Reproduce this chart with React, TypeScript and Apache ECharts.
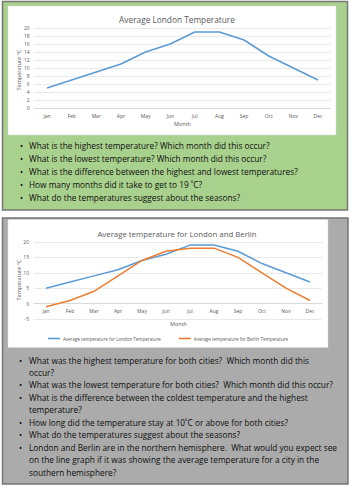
import React, { useEffect, useRef } from "react";
import * as echarts from "echarts";

const months = ["Jan", "Feb", "Mar", "Apr", "May", "Jun", "Jul", "Aug", "Sep", "Oct", "Nov", "Dec"];
const londonTemps = [5, 7, 9, 11, 14, 16, 19, 19, 17, 13, 10, 7];
const berlinTemps = [-1, 1, 4, 9, 14, 17, 18, 18, 15, 10, 5, 1];

const topTitle = "Average London Temperature";
const bottomTitle = "Average temperature for London and Berlin";
const londonName = "Average temperature for London Temperature";
const berlinName = "Average temperature for Berlin Temperature";
const yAxisTitle = "Temperature \u00B0C";
const xAxisTitle = "Month";

const topQuestions = [
  "What is the highest temperature? Which month did this occur?",
  "What is the lowest temperature? Which month did this occur?",
  "What is the difference between the highest and lowest temperatures?",
  "How many months did it take to get to 19 \u02DAC?",
  "What do the temperatures suggest about the seasons?",
];

// each question split into its printed lines
const bottomQuestions = [
  ["What was the highest temperature for both cities?  Which month did this", "occur?"],
  ["What was the lowest temperature for both cities?  Which month did this occur?"],
  ["What is the difference between the coldest temperature and the highest", "temperature?"],
  ["How long did the temperature stay at 10\u02DAC or above for both cities?"],
  ["What do the temperatures suggest about the seasons?"],
  [
    "London and Berlin are in the northern hemisphere.  What would you expect see",
    "on the line graph if it was showing the average temperature for a city in the",
    "southern hemisphere?",
  ],
];

const chartFont = "'Open Sans', 'Liberation Sans', sans-serif";
const bulletFont = "'Open Sans', 'Liberation Sans', sans-serif";

export default function App() {
  const ref = useRef<HTMLDivElement>(null);

  useEffect(() => {
    if (!ref.current) return;
    const chart = echarts.init(ref.current, undefined, { renderer: "svg" });

    const graphics: any[] = [
      { type: "rect", z: -10, shape: { x: 2.5, y: 1.5, width: 345, height: 208.5 }, style: { fill: "#A9D18E", stroke: "#767676", lineWidth: 1.5 } },
      { type: "rect", z: -9, shape: { x: 8, y: 6, width: 328, height: 129 }, style: { fill: "#ffffff", stroke: "#d9d9d9", lineWidth: 0.5 } },
      { type: "rect", z: -10, shape: { x: 2.5, y: 218, width: 345.5, height: 266 }, style: { fill: "#ABABAB", stroke: "#767676", lineWidth: 1.5 } },
      { type: "rect", z: -9, shape: { x: 8, y: 219.5, width: 320, height: 128 }, style: { fill: "#ffffff", stroke: "#d9d9d9", lineWidth: 0.5 } },
    ];

    const nameText = { fontSize: 5.5, fontFamily: chartFont, fill: "#595959", align: "center", verticalAlign: "middle" };
    graphics.push({ type: "text", x: 19, y: 70, rotation: Math.PI / 2, style: { ...nameText, text: yAxisTitle } });
    graphics.push({ type: "text", x: 18.5, y: 280, rotation: Math.PI / 2, style: { ...nameText, text: yAxisTitle } });
    graphics.push({ type: "text", x: 182.5, y: 124, style: { ...nameText, text: xAxisTitle } });
    graphics.push({ type: "text", x: 178.5, y: 323.5, style: { ...nameText, text: xAxisTitle } });

    const bulletStyle = { fontSize: 8.3, fontFamily: bulletFont, fill: "#0d0d0d", verticalAlign: "middle" };
    topQuestions.forEach((q, i) => {
      const y = 145 + i * 13;
      graphics.push({ type: "text", x: 20, y, style: { ...bulletStyle, text: "\u2022" } });
      graphics.push({ type: "text", x: 29, y, style: { ...bulletStyle, text: q } });
    });
    let lineIdx = 0;
    bottomQuestions.forEach((lines) => {
      lines.forEach((ln, j) => {
        const y = 360 + lineIdx * 12.45;
        if (j === 0) graphics.push({ type: "text", x: 19, y, style: { ...bulletStyle, text: "\u2022" } });
        graphics.push({ type: "text", x: 29, y, style: { ...bulletStyle, text: ln } });
        lineIdx++;
      });
    });

    const axisLabelStyle = { fontSize: 5, color: "#595959", fontFamily: chartFont };

    chart.setOption({
      animation: false,
      backgroundColor: "#ffffff",
      textStyle: { fontFamily: chartFont },
      title: [
        { text: topTitle, left: 172, top: 10, textAlign: "center", textStyle: { fontSize: 8.3, fontWeight: "normal", color: "#595959", fontFamily: chartFont } },
        { text: bottomTitle, left: 172, top: 225, textAlign: "center", textStyle: { fontSize: 7.8, fontWeight: "normal", color: "#595959", fontFamily: chartFont } },
      ],
      grid: [
        { left: 34.7, top: 28, width: 295.6, height: 80 },
        { left: 34, top: 242, width: 288, height: 77 },
      ],
      xAxis: [
        {
          type: "category", gridIndex: 0, data: months, boundaryGap: true,
          axisLine: { lineStyle: { color: "#d9d9d9" } }, axisTick: { show: false },
          axisLabel: { ...axisLabelStyle, margin: 5.5 },
        },
        {
          type: "category", gridIndex: 1, data: months, boundaryGap: true, offset: -15.4,
          axisLine: { onZero: false, lineStyle: { color: "#d9d9d9" } }, axisTick: { show: false },
          axisLabel: { ...axisLabelStyle, margin: 5 },
        },
      ],
      yAxis: [
        {
          type: "value", gridIndex: 0, min: 0, max: 20, interval: 2,
          axisLine: { show: false }, axisTick: { show: false },
          splitLine: { lineStyle: { color: "#e3e3e3", width: 0.8 } },
          axisLabel: { ...axisLabelStyle, margin: 5 },
        },
        {
          type: "value", gridIndex: 1, min: -5, max: 20, interval: 5,
          axisLine: { show: false }, axisTick: { show: false },
          splitLine: { lineStyle: { color: "#e3e3e3", width: 0.8 } },
          axisLabel: { ...axisLabelStyle, margin: 5 },
        },
      ],
      legend: {
        data: [londonName, berlinName],
        left: 48, top: 336, padding: 0, itemWidth: 12, itemHeight: 1.6, itemGap: 18, icon: "rect",
        textStyle: { fontSize: 4.5, color: "#595959", fontFamily: chartFont, padding: [0, 0, 0, -2] },
      },
      series: [
        { name: topTitle, type: "line", xAxisIndex: 0, yAxisIndex: 0, data: londonTemps, symbol: "none", lineStyle: { color: "#5B9BD5", width: 1.5 }, itemStyle: { color: "#5B9BD5" } },
        { name: londonName, type: "line", xAxisIndex: 1, yAxisIndex: 1, data: londonTemps, symbol: "none", lineStyle: { color: "#5B9BD5", width: 1.5 }, itemStyle: { color: "#5B9BD5" } },
        { name: berlinName, type: "line", xAxisIndex: 1, yAxisIndex: 1, data: berlinTemps, symbol: "none", lineStyle: { color: "#ED7D31", width: 1.5 }, itemStyle: { color: "#ED7D31" } },
      ],
      graphic: graphics,
    });

    return () => chart.dispose();
  }, []);

  return <div ref={ref} style={{ position: "fixed", left: 0, top: 0, width: 354, height: 500 }} />;
}
